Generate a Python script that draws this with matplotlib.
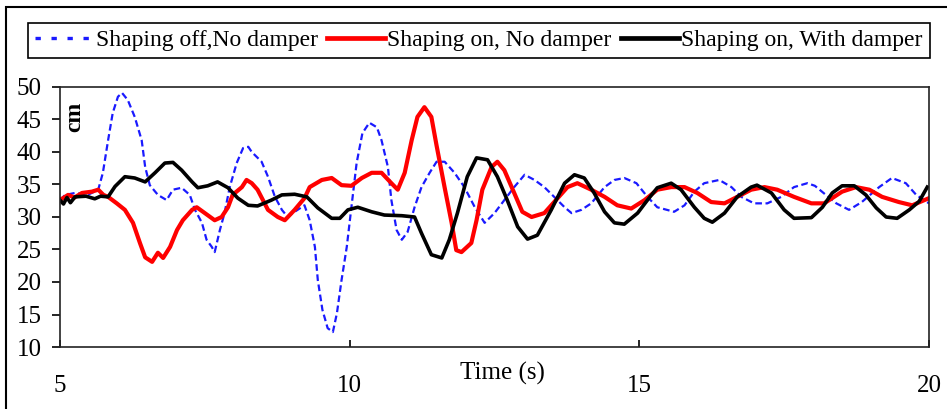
import matplotlib.pyplot as plt
from matplotlib.lines import Line2D
from matplotlib.patches import Rectangle

plt.rcParams['font.family'] = ['Liberation Serif', 'DejaVu Serif']

# Shaping off, No damper (blue dashed)
t_off = [5.0, 5.09, 5.26, 5.48, 5.66, 5.74, 5.83, 5.91, 6.0, 6.07, 6.17, 6.29, 6.41, 6.47,
         6.55, 6.69, 6.84, 6.95, 7.10, 7.24, 7.33, 7.45, 7.53, 7.62, 7.67, 7.76, 7.84, 7.93,
         8.05, 8.16, 8.25, 8.31, 8.48, 8.59, 8.71, 8.83, 8.93, 9.05, 9.22, 9.31, 9.40, 9.45,
         9.53, 9.62, 9.71, 9.78, 9.86, 9.95, 10.03, 10.12, 10.22, 10.34, 10.47, 10.55, 10.66,
         10.72, 10.81, 10.9, 11.0, 11.12, 11.24, 11.38, 11.50, 11.64, 11.81, 11.98, 12.16,
         12.33, 12.5, 12.67, 12.84, 13.02, 13.19, 13.36, 13.53, 13.71, 13.83, 14.0, 14.17,
         14.40, 14.57, 14.74, 14.95, 15.14, 15.31, 15.60, 15.78, 15.95, 16.12, 16.38, 16.59,
         16.76, 16.98, 17.21, 17.45, 17.67, 17.90, 18.03, 18.22, 18.40, 18.62, 18.84, 19.14,
         19.36, 19.60, 19.78, 20.0]
y_off = [32.6, 33.4, 33.7, 33.4, 34.2, 36.8, 41.8, 46.0, 48.5, 49.1, 48.0, 45.4, 41.8, 37.7,
         34.9, 33.4, 32.6, 34.2, 34.5, 33.4, 31.1, 29.1, 26.5, 25.4, 24.6, 28.0, 30.6, 34.6,
         38.3, 40.6, 40.8, 40.0, 38.5, 36.2, 33.1, 31.1, 30.0, 30.8, 31.8, 29.5, 25.4, 20.3,
         15.7, 12.9, 12.3, 15.2, 20.3, 25.4, 31.5, 38.3, 42.9, 44.5, 43.8, 41.8, 37.7,
         32.6, 28.0, 26.5, 27.7, 31.5, 34.6, 36.8, 38.5, 38.5, 36.8, 34.6, 31.5,
         29.1, 30.6, 32.6, 34.6, 36.5, 35.7, 34.6, 33.1, 31.5, 30.6, 31.1, 32.1,
         34.6, 35.7, 36.0, 35.2, 33.1, 31.5, 30.8, 31.8, 33.9, 35.2, 35.7, 34.6,
         33.1, 32.1, 32.1, 33.1, 34.6, 35.2, 34.8, 33.4, 32.1, 31.1, 32.3, 34.6,
         36.0, 35.2, 33.4, 32.1]

# Shaping on, No damper (red)
t_on = [5.0, 5.14, 5.25, 5.38, 5.55, 5.66, 5.75, 5.83, 5.98, 6.12, 6.26, 6.38, 6.47, 6.59,
        6.69, 6.78, 6.90, 7.02, 7.12, 7.28, 7.36, 7.50, 7.67, 7.79, 7.90, 7.98, 8.14, 8.22,
        8.31, 8.41, 8.59, 8.76, 8.88, 9.05, 9.22, 9.31, 9.52, 9.69, 9.86, 10.03, 10.21, 10.38,
        10.55, 10.72, 10.83, 10.95, 11.07, 11.17, 11.29, 11.41, 11.50, 11.64, 11.76, 11.84,
        11.93, 12.1, 12.19, 12.29, 12.45, 12.55, 12.67, 12.84, 12.98, 13.14, 13.36, 13.53,
        13.76, 13.93, 14.17, 14.40, 14.62, 14.86, 15.09, 15.31, 15.55, 15.78, 16.0, 16.24,
        16.47, 16.69, 16.93, 17.16, 17.38, 17.67, 17.97, 18.19, 18.5, 18.74, 18.97, 19.19,
        19.48, 19.71, 20.0]
y_on = [32.6, 33.4, 33.0, 33.7, 33.9, 34.2, 33.4, 33.1, 32.1, 31.1, 29.1, 26.0, 23.8, 23.1,
        24.5, 23.7, 25.4, 28.0, 29.5, 31.1, 31.5, 30.6, 29.5, 30.0, 31.5, 33.4, 34.6, 35.7,
        35.2, 34.2, 31.1, 30.0, 29.5, 31.1, 32.9, 34.6, 35.7, 36.0, 34.9, 34.8, 36.0, 36.8,
        36.8, 35.2, 34.2, 36.8, 41.8, 45.4, 46.9, 45.4, 41.0, 34.5, 29.1, 24.9,
        24.6, 26.0, 29.5, 34.2, 37.7, 38.5, 37.2, 33.7, 30.8, 30.0, 30.6, 32.3,
        34.6, 35.2, 34.2, 33.1, 31.8, 31.3, 32.6, 34.2, 34.6, 34.6, 33.7, 32.3,
        32.1, 33.1, 34.2, 34.6, 34.2, 33.1, 32.1, 32.1, 33.9, 34.6, 34.2, 33.1,
        32.3, 31.8, 32.9]

# Shaping on, With damper (black)
t_damp = [5.0, 5.06, 5.12, 5.18, 5.26, 5.45, 5.6, 5.7, 5.83, 5.95, 6.12, 6.29, 6.47, 6.64,
          6.81, 6.95, 7.10, 7.28, 7.38, 7.55, 7.72, 7.90, 8.07, 8.25, 8.41, 8.65, 8.83, 9.05,
          9.26, 9.45, 9.69, 9.83, 9.97, 10.14, 10.38, 10.6, 10.9, 11.12, 11.24, 11.41, 11.59,
          11.72, 11.86, 12.03, 12.19, 12.38, 12.55, 12.72, 12.9, 13.07, 13.24, 13.48, 13.71,
          13.88, 14.05, 14.22, 14.40, 14.57, 14.74, 14.97, 15.14, 15.31, 15.55, 15.72, 15.95,
          16.12, 16.26, 16.47, 16.69, 16.93, 17.03, 17.28, 17.5, 17.67, 17.97, 18.16, 18.33,
          18.5, 18.71, 18.91, 19.09, 19.26, 19.45, 19.66, 19.83, 19.97]
y_damp = [32.6, 32.0, 33.0, 32.2, 33.1, 33.2, 32.8, 33.2, 33.1, 34.7, 36.2, 36.0, 35.4, 36.8,
          38.3, 38.4, 37.2, 35.4, 34.5, 34.8, 35.4, 34.5, 32.9, 31.8, 31.7, 32.6, 33.4, 33.5,
          33.1, 31.4, 29.8, 29.8, 31.1, 31.5, 30.8, 30.3, 30.2, 30.0, 27.5, 24.2, 23.7,
          26.5, 30.6, 36.2, 39.1, 38.8, 36.2, 32.6, 28.5, 26.6, 27.2, 31.1, 35.2,
          36.5, 36.0, 33.7, 30.8, 29.1, 28.9, 30.6, 32.6, 34.5, 35.2, 34.2, 31.5,
          29.8, 29.2, 30.6, 33.1, 34.6, 34.9, 33.7, 31.1, 29.8, 29.9, 31.5, 33.7,
          34.8, 34.8, 33.4, 31.4, 30.0, 29.8, 31.1, 32.4, 34.6]

labels = ['Shaping off,No damper', 'Shaping on, No damper', 'Shaping on, With damper']
x_ticks = [5, 10, 15, 20]
y_ticks = [10, 15, 20, 25, 30, 35, 40, 45, 50]

fig = plt.figure(figsize=(9.47, 4.09), dpi=100)
ax = fig.add_axes([60 / 947, 62 / 409, 869 / 947, 260 / 409])

ax.plot(t_off, y_off, color='#1a1aff', lw=1.6, linestyle=(0, (3, 1.6)))
ax.plot(t_on, y_on, color='#ff0000', lw=3.0)
ax.plot(t_damp, y_damp, color='black', lw=2.6)

ax.set_xlim(5, 20)
ax.set_ylim(10, 50)
ax.set_xticks(x_ticks)
ax.set_yticks(y_ticks)
ax.tick_params(axis='y', direction='out', length=6, width=1.2, labelsize=18, pad=7)
ax.tick_params(axis='x', direction='in', length=5, width=1.2, labelsize=18, pad=20)
for side in ['left', 'bottom', 'top', 'right']:
    ax.spines[side].set_linewidth(1.2)
    ax.spines[side].set_color('#222222')

ax.text(0.017, 0.885, 'cm', transform=ax.transAxes, rotation=90, fontsize=17,
        fontweight='bold', ha='center', va='center')
fig.text(502 / 947, 1 - 373 / 409, 'Time (s)', fontsize=18, ha='center', va='center')

handles = [Line2D([], [], color='#1a1aff', lw=2.4, linestyle=(0, (1.6, 3.2))),
           Line2D([], [], color='#ff0000', lw=3.4),
           Line2D([], [], color='black', lw=3.4)]
leg = fig.legend(handles, labels, loc='center', bbox_to_anchor=(479 / 947, 1 - 40.5 / 409),
                 ncol=3, fontsize=17, frameon=True, fancybox=False, framealpha=1,
                 edgecolor='black', handlelength=2.45, handletextpad=0.1,
                 columnspacing=0.4, borderpad=0.3, borderaxespad=0)
leg.get_frame().set_linewidth(1.2)

# outer frame (left and top edges visible)
fig.add_artist(Rectangle((6 / 947, -0.1), 1.2, 1.1 - 7 / 409, transform=fig.transFigure,
                         fill=False, lw=1.5, edgecolor='black', clip_on=False))

plt.savefig('out.png', dpi=100)
